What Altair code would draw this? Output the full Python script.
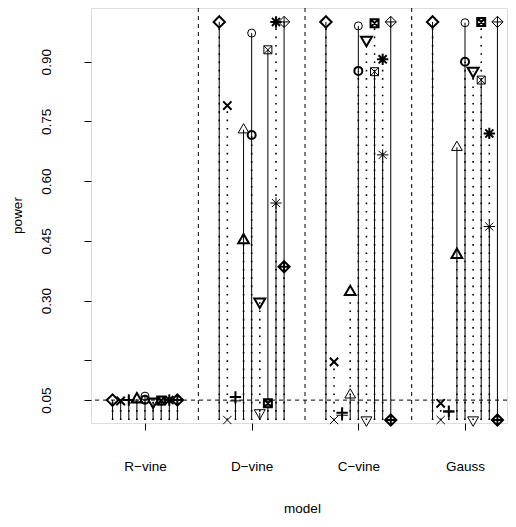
import json
import altair as alt
import pandas as pd

# ---------------- data ----------------
models = ["R−vine", "D−vine", "C−vine", "Gauss"]
series = ["diamond", "x", "plus", "tri_up", "circle", "tri_down", "sq_x", "asterisk", "diamond_plus"]

rvine_thin = [0.050, 0.047, 0.050, 0.053, 0.060, 0.045, 0.048, 0.050, 0.050]
rvine_bold = [0.050, 0.048, 0.050, 0.052, 0.051, 0.046, 0.049, 0.050, 0.050]
dvine_thin = [1.000, 0.000, 0.048, 0.729, 0.972, 0.018, 0.930, 0.545, 1.000]
dvine_bold = [1.000, 0.790, 0.058, 0.452, 0.716, 0.297, 0.042, 1.000, 0.385]
cvine_thin = [1.000, 0.000, 0.012, 0.063, 0.990, 0.000, 0.875, 0.666, 1.000]
cvine_bold = [1.000, 0.146, 0.018, 0.322, 0.877, 0.955, 0.997, 0.906, 0.000]
gauss_thin = [1.000, 0.000, 0.020, 0.685, 0.998, 0.000, 0.854, 0.486, 1.000]
gauss_bold = [1.000, 0.042, 0.022, 0.415, 0.900, 0.877, 1.000, 0.720, 0.000]

thin_values = [rvine_thin, dvine_thin, cvine_thin, gauss_thin]
bold_values = [rvine_bold, dvine_bold, cvine_bold, gauss_bold]

y_tick_values = [0.05, 0.15, 0.30, 0.45, 0.60, 0.75, 0.90]
y_tick_labels = ["0.05", "", "0.30", "0.45", "0.60", "0.75", "0.90"]
x_tick_values = [1, 2, 3, 4]
separators = [1.5, 2.5, 3.5]
reference_level = [0.05]

# ---------------- styling ----------------
FONT = "Liberation Sans"
FS = 13.5
shape_paths = {
    "diamond": "M0,-1L1,0L0,1L-1,0Z",
    "x": "M-1,-1L1,1M-1,1L1,-1",
    "plus": "M-1,0L1,0M0,-1L0,1",
    "tri_up": "M0,-1.155L1,0.577L-1,0.577Z",
    "circle": "circle",
    "tri_down": "M0,1.155L1,-0.577L-1,-0.577Z",
    "sq_x": "M-1,-1L1,-1L1,1L-1,1ZM-1,-1L1,1M-1,1L1,-1",
    "asterisk": "M-1,0L1,0M0,-1L0,1M-0.707,-0.707L0.707,0.707M-0.707,0.707L0.707,-0.707",
    "diamond_plus": "M0,-1L1,0L0,1L-1,0ZM-1,0L1,0M0,-1L0,1",
}
shape_sizes = {
    "diamond": 130, "x": 69, "plus": 130, "tri_up": 115, "circle": 64,
    "tri_down": 120, "sq_x": 64, "asterisk": 130, "diamond_plus": 125,
}
SPACING = 0.076

rows = []
for kind, table in (("thin", thin_values), ("bold", bold_values)):
    for mi, vals in enumerate(table):
        for si, v in enumerate(vals):
            rows.append({"model_idx": mi + 1, "series_idx": si + 1,
                         "series": series[si], "kind": kind, "value": v})
df = pd.DataFrame(rows)

x_scale = alt.Scale(domain=[0.4938, 4.3937], nice=False, zero=False)
y_scale = alt.Scale(domain=[-0.0075, 1.035], nice=False, zero=False)

label_map = json.dumps(dict(zip([f"{v:.2f}" for v in y_tick_values], y_tick_labels)), ensure_ascii=False)
y_label_expr = f"{label_map}[format(datum.value, '.2f')]"
x_label_expr = f"{json.dumps(models, ensure_ascii=False)}[datum.value - 1]"

x_axis = alt.Axis(values=x_tick_values, labelExpr=x_label_expr, tickSize=7, domain=False,
                  grid=False, labelPadding=40, labelBaseline="alphabetic", labelFontSize=FS,
                  labelFont=FONT, labelColor="black", tickColor="black", title="model",
                  titleFont=FONT, titleFontSize=FS, titleFontWeight="normal", titleColor="black",
                  titleX=211, titleY=89, titleBaseline="alphabetic", labelFlush=False)
y_axis = alt.Axis(values=y_tick_values, labelExpr=y_label_expr, tickSize=7, domain=False,
                  grid=False, labelPadding=34, labelAngle=270, labelAlign="center",
                  labelBaseline="alphabetic", labelFontSize=FS, labelFont=FONT,
                  labelColor="black", tickColor="black", title="power", titleFont=FONT,
                  titleFontSize=FS, titleFontWeight="normal", titleColor="black",
                  titleX=-70, titleY=207, titleAngle=270, titleBaseline="alphabetic",
                  labelFlush=False)

base = alt.Chart(df).transform_calculate(
    xpos=f"datum.model_idx + (datum.series_idx - 5) * {SPACING}", base="0"
)

X = alt.X("xpos:Q", scale=x_scale, axis=x_axis)
Y = alt.Y("value:Q", scale=y_scale, axis=y_axis)

layers = []

sep = alt.Chart(pd.DataFrame({"b": separators})).mark_rule(
    color="black", strokeWidth=1, strokeDash=[4, 4]
).encode(x=alt.X("b:Q", scale=x_scale, axis=x_axis))
layers.append(sep)

ref = alt.Chart(pd.DataFrame({"r": reference_level})).mark_rule(
    color="black", strokeWidth=1, strokeDash=[4, 4]
).encode(y=alt.Y("r:Q", scale=y_scale, axis=y_axis))
layers.append(ref)

thin_rules = base.transform_filter("datum.kind == 'thin'").mark_rule(
    color="black", strokeWidth=1
).encode(x=X, y=alt.Y("base:Q", scale=y_scale, axis=y_axis), y2="value:Q")
bold_rules = base.transform_filter("datum.kind == 'bold'").mark_rule(
    color="black", strokeWidth=1.6, strokeDash=[1.6, 6.7]
).encode(x=X, y=alt.Y("base:Q", scale=y_scale, axis=y_axis), y2="value:Q")
layers += [thin_rules, bold_rules]

for s in series:
    for kind, w in (("thin", 1), ("bold", 2)):
        layers.append(
            base.transform_filter(f"datum.kind == '{kind}' && datum.series == '{s}'")
            .mark_point(shape=shape_paths[s], size=shape_sizes[s], filled=False,
                        color="black", strokeWidth=w, opacity=1)
            .encode(x=X, y=Y)
        )

chart = alt.layer(*layers).properties(
    width=416, height=415,
    autosize=alt.AutoSizeParams(type="none"),
    padding={"left": 83, "top": 0, "right": 1, "bottom": 94},
).configure_view(stroke="black", strokeWidth=1).configure(background="white")

chart.save("out.html", embed_options={"renderer": "svg", "actions": False})
